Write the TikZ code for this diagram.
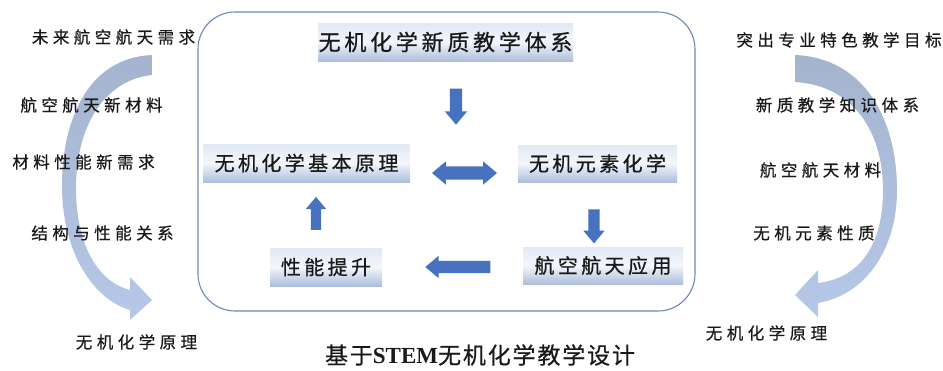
\documentclass[tikz,border=0pt]{standalone}
\usepackage{fontspec}
\usetikzlibrary{shapes.arrows}
\newfontfamily\cjkbox[LetterSpace=17,FakeBold=0.7]{Noto Sans CJK SC}
\newfontfamily\cjkside[LetterSpace=27,FakeBold=0.5]{Noto Sans CJK SC}
\newfontfamily\cjktitle[LetterSpace=8,FakeBold=0.5]{Noto Sans CJK SC}
\newfontfamily\stemfont{Liberation Serif}
\definecolor{arrowblue}{RGB}{70,114,192}
\definecolor{framecol}{RGB}{110,136,182}
\definecolor{boxtop}{RGB}{226,233,244}
\definecolor{boxmid}{RGB}{243,246,251}
\definecolor{boxbot}{RGB}{172,190,220}
\definecolor{curvetop}{RGB}{164,180,206}
\definecolor{curvebot}{RGB}{182,200,232}
\definecolor{textcol}{RGB}{25,25,25}
\tikzset{
  box/.style={top color=boxtop, bottom color=boxbot, middle color=boxmid, draw=none, inner sep=0pt,
    text=textcol, font=\cjkbox\fontsize{20}{22}\selectfont},
  bigbox/.style={box, font=\cjkbox\fontsize{22}{24}\selectfont},
  side/.style={inner sep=0pt, text=textcol, font=\cjkside\fontsize{16.5}{18}\selectfont},
  blockarrow/.style={single arrow, fill=arrowblue, draw=none, inner xsep=0pt, inner ysep=6pt,
    single arrow head extend=5pt, single arrow head indent=0pt, single arrow tip angle=80},
  dblarrow/.style={double arrow, fill=arrowblue, draw=none, inner xsep=0pt, inner ysep=6.5pt,
    double arrow head extend=5pt, double arrow head indent=0pt, double arrow tip angle=80},
  curvearrow/.style={top color=curvetop, bottom color=curvebot, draw=none}
}
\begin{document}
\begin{tikzpicture}[x=1pt,y=-1pt]
\useasboundingbox (0,0) rectangle (943,370);
\fill[white] (0,0) rectangle (943,370);

% curved arrows
\shade[curvearrow] (152,55) .. controls (85,58) and (62,125) .. (62,185)
  .. controls (62,255) and (95,300) .. (130,310) -- (130,320) -- (152,300) -- (130,277) -- (130,290)
  .. controls (98,282) and (76,245) .. (76,188) .. controls (76,125) and (105,80) .. (152,75) -- cycle;
\shade[curvearrow] (795,55) .. controls (865,58) and (897,120) .. (897,190)
  .. controls (897,250) and (865,295) .. (818,303) -- (818,317) -- (795,295) -- (818,270) -- (818,283)
  .. controls (860,278) and (883,245) .. (883,190) .. controls (883,128) and (850,85) .. (795,82) -- cycle;

% frame
\draw[framecol, line width=1.1pt, rounded corners=37pt] (198,12) rectangle (695,311);

% boxes
\node[bigbox, minimum width=255pt, minimum height=38pt] (b1) at (445.5,42) {无机化学新质教学体系};
\node[box, minimum width=207pt, minimum height=38pt] (b2) at (306.5,163) {无机化学基本原理};
\node[box, minimum width=159pt, minimum height=37pt] (b3) at (597.5,163.5) {无机元素化学};
\node[box, minimum width=112pt, minimum height=38pt] (b4) at (326,267) {性能提升};
\node[box, minimum width=160pt, minimum height=37pt] (b5) at (603,265.5) {航空航天应用};

% block arrows
\node[blockarrow, minimum height=36pt, rotate=-90] (a1) at (456,103) {};
\node[dblarrow, minimum height=65pt] (a2) at (464.5,173) {};
\node[blockarrow, minimum height=34pt, inner ysep=5.5pt, rotate=-90] (a3) at (594,223) {};
\node[blockarrow, minimum height=65pt, rotate=180] (a4) at (461.5,267) {};
\node[blockarrow, minimum height=33pt, inner ysep=5pt, rotate=90] (a5) at (316,216.5) {};

% side texts
\node[side] (l1) at (113.5,37) {未来航空航天需求};
\node[side] (l2) at (91.5,105) {航空航天新材料};
\node[side] (l3) at (83.5,162) {材料性能新需求};
\node[side] (l4) at (102.5,233) {结构与性能关系};
\node[side] (l5) at (136.5,342) {无机化学原理};
\node[side] (r1) at (839,40) {突出专业特色教学目标};
\node[side] (r2) at (837.5,105) {新质教学知识体系};
\node[side] (r3) at (820.5,170) {航空航天材料};
\node[side] (r4) at (814,233) {无机元素性质};
\node[side] (r5) at (766.5,333) {无机化学原理};

% title
\node[inner sep=0pt, text=textcol, font=\cjktitle\fontsize{23}{25}\selectfont] (title) at (480,355)
  {基于{\stemfont\bfseries STEM}无机化学教学设计};
\end{tikzpicture}
\end{document}
